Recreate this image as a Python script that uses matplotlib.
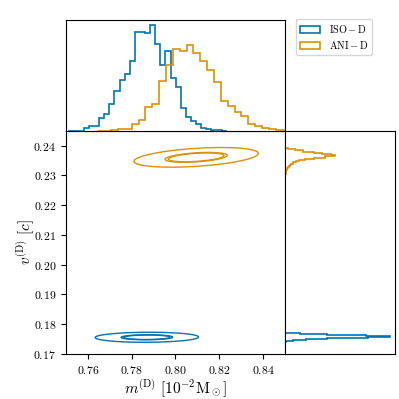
import matplotlib
matplotlib.use('Agg')
import matplotlib.pyplot as plt
import numpy as np

plt.rcParams.update({
    'font.family': 'serif',
    'font.serif': ['cmr10'],
    'mathtext.fontset': 'cm',
    'axes.formatter.use_mathtext': True,
    'font.size': 8.5,
})

blue = '#0173B2'
orange = '#DE8F05'
labels = [r'$\mathrm{ISO}-\mathrm{D}$', r'$\mathrm{ANI}-\mathrm{D}$']

# mass histograms (bin start, bin width, counts)
m_iso_start, m_iso_step = 0.7512, 0.00233
m_iso_counts = [0, 1, 1, 8, 16, 16, 39, 51, 82, 120, 152, 172, 210, 298, 298, 295,
                318, 261, 198, 241, 160, 131, 70, 42, 29, 20, 10, 6, 4, 2, 1]
m_ani_start, m_ani_step = 0.7644, 0.00313
m_ani_counts = [0, 1, 2, 6, 7, 20, 33, 73, 81, 150, 198, 246, 240, 257, 235, 210,
                183, 147, 90, 76, 56, 44, 20, 16, 8, 6, 3, 2]

# velocity histograms
v_iso_start, v_iso_step = 0.1741, 0.0001
v_iso_counts = [2, 4, 9, 15, 25, 35, 48, 62, 80, 100, 125, 150, 180, 215, 245, 280,
                305, 310, 290, 265, 240, 210, 185, 155, 125, 95, 70, 45, 25, 10]
v_ani_start, v_ani_step = 0.2296, 0.0004
v_ani_counts = [1, 1, 2, 2, 3, 4, 6, 8, 11, 14, 18, 25, 32, 42, 60, 85, 120, 147,
                135, 110, 85, 55, 30, 10]

# 2d posterior shape (center, sigma, correlation)
iso_center, iso_sigma, iso_rho = (0.787, 0.1756), (0.0118, 0.00084), 0.05
ani_center, ani_sigma, ani_rho = (0.8095, 0.2361), (0.0142, 0.00165), 0.4
levels = [np.exp(-2.0), np.exp(-0.5), np.exp(-0.4)]


def edges(start, step, n):
    return start + step * np.arange(n + 1)


def gauss(M, V, c, s, rho):
    dx = (M - c[0]) / s[0]
    dy = (V - c[1]) / s[1]
    z = dx**2 - 2 * rho * dx * dy + dy**2
    return np.exp(-z / (2 * (1 - rho**2)))


fig = plt.figure(figsize=(3.99, 3.99), dpi=100)
ax = fig.add_axes([0.165, 0.113, 0.549, 0.559])
axt = fig.add_axes([0.165, 0.672, 0.549, 0.278])
axr = fig.add_axes([0.714, 0.113, 0.276, 0.559])

# top histogram
for start, step, counts, col, lab in [(m_iso_start, m_iso_step, m_iso_counts, blue, labels[0]),
                                      (m_ani_start, m_ani_step, m_ani_counts, orange, labels[1])]:
    e = edges(start, step, len(counts))
    axt.hist(e[:-1] + step / 2, bins=e, weights=counts, histtype='step',
             color=col, lw=1.2, label=lab)
axt.set_xlim(0.75, 0.85)
axt.set_ylim(0, max(m_iso_counts) * 1.05)
axt.set_xticks([])
axt.set_yticks([])

# right histogram
for start, step, counts, col in [(v_iso_start, v_iso_step, v_iso_counts, blue),
                                 (v_ani_start, v_ani_step, v_ani_counts, orange)]:
    e = edges(start, step, len(counts))
    axr.hist(e[:-1] + step / 2, bins=e, weights=counts, histtype='step',
             orientation='horizontal', color=col, lw=1.2)
axr.set_ylim(0.17, 0.245)
axr.set_xlim(0, max(v_iso_counts) * 1.05)
axr.set_xticks([])
axr.set_yticks([])

# contours
m = np.linspace(0.75, 0.85, 500)
v = np.linspace(0.17, 0.245, 900)
M, V = np.meshgrid(m, v)
ax.contour(M, V, gauss(M, V, iso_center, iso_sigma, iso_rho), levels=levels,
           colors=blue, linewidths=1.0)
ax.contour(M, V, gauss(M, V, ani_center, ani_sigma, ani_rho), levels=levels,
           colors=orange, linewidths=1.0)
ax.set_xlim(0.75, 0.85)
ax.set_ylim(0.17, 0.245)
ax.set_xticks([0.76, 0.78, 0.80, 0.82, 0.84])
ax.set_yticks([0.17, 0.18, 0.19, 0.20, 0.21, 0.22, 0.23, 0.24])
ax.set_xlabel(r'$m^{(\mathrm{D})}\ [10^{-2}\mathrm{M}_\odot]$', fontsize=11, labelpad=1)
ax.set_ylabel(r'$v^{(\mathrm{D})}\ [c]$', fontsize=11, labelpad=-2)

h, l = axt.get_legend_handles_labels()
fig.legend(h, l, loc='upper left', bbox_to_anchor=(0.742, 0.952),
           borderaxespad=0, fontsize=7.3, labelspacing=0.4, borderpad=0.4,
           handlelength=2.0)

plt.savefig('out.png', dpi=100)
